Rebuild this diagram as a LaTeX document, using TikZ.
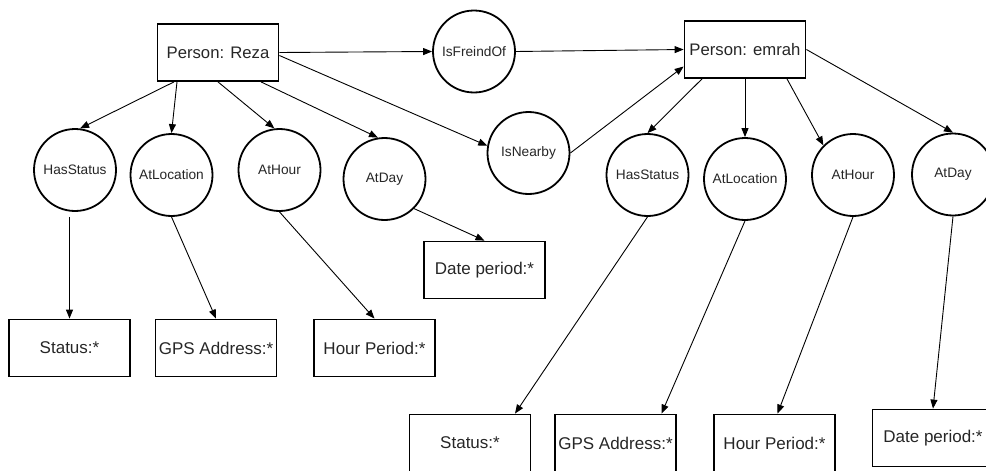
\documentclass[tikz,border=0pt]{standalone}
\usepackage{fontspec}
\setmainfont{Liberation Sans}
\usetikzlibrary{arrows.meta}
\begin{document}
\begin{tikzpicture}[x=1pt,y=-1pt]
\tikzstyle{every node}=[draw,line width=1.8pt,text=black!85,font=\fontsize{17}{20}\selectfont]
\tikzstyle{rel}=[circle,minimum size=82pt,inner sep=0pt,font=\fontsize{13.7}{16}\selectfont]
\tikzstyle{val}=[rectangle,minimum width=121pt,minimum height=57pt,inner sep=1pt]
\tikzstyle{pers}=[val,font=\fontsize{16.7}{20}\selectfont]
\tikzstyle{arr}=[-{Triangle[length=9pt,width=7pt]},line width=0.9pt]
\useasboundingbox (0,0) rectangle (986,471);
% persons and relations between them
\node[pers](reza) at (218,52.5) {Person: Reza};
\node[pers](emrah) at (745,49.5) {Person: emrah};
\node[rel](fr) at (474,51.5) {IsFreindOf};
\node[rel](nb) at (528.5,153) {IsNearby};
% properties of Reza
\node[rel](rhs) at (75,170) {HasStatus};
\node[rel](rloc) at (171.5,175) {AtLocation};
\node[rel](rhour) at (279.5,170) {AtHour};
\node[rel](rday) at (384.5,179) {AtDay};
\node[val](rst) at (69.5,348) {Status:*};
\node[val](rgps) at (216,348) {GPS Address:*};
\node[val](rhp) at (374.5,348) {Hour Period:*};
\node[val](rdp) at (484.5,270) {Date period:*};
% properties of emrah
\node[rel](ehs) at (647.5,175) {HasStatus};
\node[rel](eloc) at (745,179) {AtLocation};
\node[rel](ehour) at (853,175) {AtHour};
\node[rel](eday) at (953,174.5) {AtDay};
\node[val](est) at (470,443) {Status:*};
\node[val](egps) at (615.5,443) {GPS Address:*};
\node[val](ehp) at (774.5,443) {Hour Period:*};
\node[val](edp) at (933,438) {Date period:*};
\coordinate (rhsout) at (rhs.south -| rst.north);
\draw[arr] (reza.east) -- (fr.west);
\draw[arr] (fr.east) -- (emrah.west);
\draw[arr] ([yshift=-3pt]reza.east) -- (nb.170);
\draw[arr] (nb.east) -- ([yshift=-17pt]emrah.west);
\draw[arr] ([xshift=-44pt]reza.south) -- (rhs.83);
\draw[arr] ([xshift=-41pt]reza.south) -- (rloc.north);
\draw[arr] (reza.south) -- (rhour.97);
\draw[arr] ([xshift=43pt]reza.south) -- (rday.99);
\draw[arr] ([xshift=-43pt]emrah.south) -- (ehs.north);
\draw[arr] (emrah.south) -- (eloc.north);
\draw[arr] ([xshift=42pt]emrah.south) -- (ehour.135);
\draw[arr] (emrah.east) -- (eday.north);
\draw[arr] ([yshift=-5pt]rhsout) -- (rst.north);
\draw[arr] (rloc.south) -- (rgps.north);
\draw[arr] (rhour.south) -- (rhp.north);
\draw[arr] (rday.-45) -- (rdp.north);
\draw[arr] (ehs.south) -- ([xshift=45pt]est.north);
\draw[arr] (eloc.south) -- ([xshift=46pt]egps.north);
\draw[arr] (ehour.south) -- ([xshift=3pt]ehp.north);
\draw[arr] (eday.south) -- (edp.north);
\end{tikzpicture}
\end{document}
